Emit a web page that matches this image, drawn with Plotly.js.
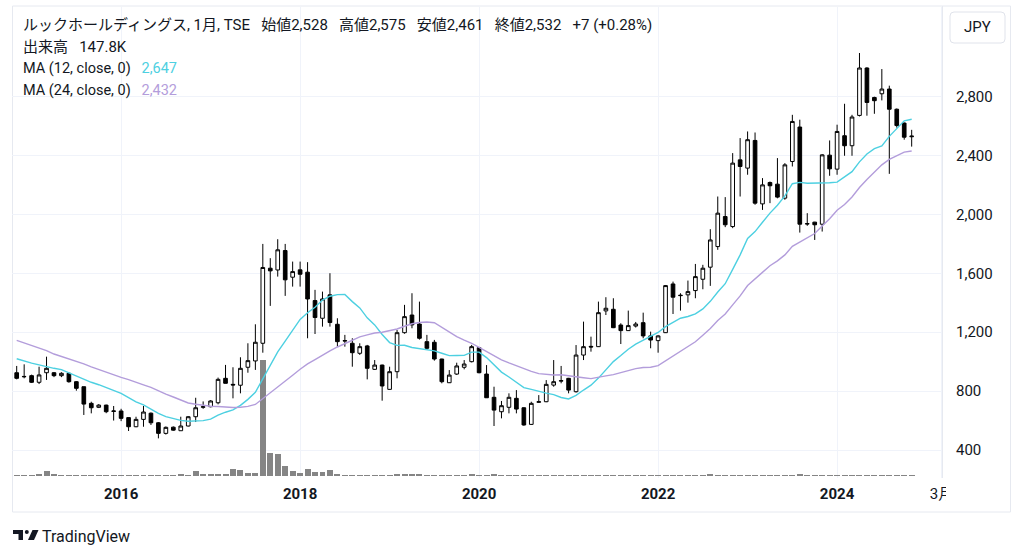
<!DOCTYPE html>
<html>
<head>
<meta charset="utf-8">
<script src="https://cdn.plot.ly/plotly-3.0.1.min.js"></script>
<style>
  html, body { margin: 0; padding: 0; background: #fff; }
  #chart { width: 1024px; height: 557px; }
</style>
</head>
<body>
<div id="chart"></div>
<script>
// Monthly candles, first bar = Nov 2014
const startYear = 2014;
const startMonth = 11;

const opens = [925, 900, 905, 860, 925, 925, 905, 921, 864, 830,
  717, 690, 705, 662, 665, 620, 558, 608, 650, 585,
  513, 555, 531, 563, 626, 690, 694, 721, 887, 846,
  840, 962, 1005, 1125, 1635, 1623, 1755, 1574, 1624, 1608,
  1415, 1295, 1454, 1254, 1140, 1125, 1057, 1107, 948, 977,
  812, 932, 1197, 1317, 1256, 1136, 1132, 1018, 857, 916,
  962, 1000, 1095, 916, 758, 660, 690, 751, 687, 574,
  724, 728, 841, 868, 887, 796, 1045, 1104, 1102, 1345,
  1356, 1249, 1211, 1242, 1265, 1175, 1143, 1197, 1528, 1452,
  1454, 1483, 1560, 1642, 1782, 1986, 1918, 2371, 2315, 2503,
  2072, 2217, 2206, 2111, 2360, 2594, 1938, 1948, 1934, 2403,
  2308, 2535, 2467, 2673, 2995, 2795, 2820, 2852, 2715, 2621,
  2528];

const highs = [971, 982, 912, 966, 1034, 930, 928, 925, 868, 830,
  728, 712, 708, 699, 680, 620, 626, 699, 655, 590,
  560, 560, 626, 630, 755, 730, 739, 892, 978, 962,
  1030, 1125, 1254, 1800, 1703, 1832, 1800, 1680, 1680, 1676,
  1488, 1476, 1601, 1295, 1182, 1159, 1125, 1114, 1011, 980,
  966, 1215, 1386, 1465, 1408, 1182, 1148, 1020, 943, 993,
  1011, 1114, 1100, 977, 830, 733, 785, 807, 690, 728,
  773, 875, 1011, 971, 890, 1113, 1272, 1170, 1408, 1438,
  1431, 1261, 1347, 1270, 1333, 1204, 1180, 1521, 1544, 1465,
  1551, 1664, 1658, 1900, 2122, 2118, 2417, 2519, 2564, 2557,
  2247, 2224, 2383, 2349, 2677, 2644, 2009, 1950, 2410, 2503,
  2610, 2752, 2677, 3097, 3000, 2800, 2988, 2875, 2720, 2625,
  2575];

const lows = [880, 887, 855, 848, 876, 895, 895, 857, 803, 638,
  649, 685, 650, 600, 596, 529, 555, 558, 570, 479,
  505, 531, 531, 560, 590, 680, 690, 710, 853, 751,
  785, 925, 944, 1061, 1379, 1578, 1447, 1510, 1510, 1159,
  1188, 1238, 1238, 1102, 1102, 966, 1046, 880, 944, 735,
  810, 887, 1190, 1227, 1150, 1080, 1007, 853, 855, 910,
  948, 995, 921, 755, 563, 615, 649, 649, 565, 570,
  721, 725, 830, 853, 785, 790, 1011, 1068, 1100, 1317,
  1228, 1120, 1209, 1232, 1159, 1091, 1061, 1195, 1324, 1347,
  1401, 1431, 1492, 1515, 1760, 1914, 1907, 2122, 2270, 2066,
  2031, 2077, 2110, 2100, 2326, 1877, 1923, 1827, 1884, 2263,
  2270, 2399, 2399, 2666, 2671, 2684, 2775, 2276, 2590, 2508,
  2461];

const closes = [887, 898, 860, 910, 955, 905, 921, 864, 819, 712,
  687, 705, 660, 665, 615, 558, 608, 658, 585, 513,
  554, 535, 563, 626, 687, 694, 733, 880, 853, 842,
  955, 1007, 1132, 1640, 1617, 1760, 1556, 1612, 1594, 1426,
  1300, 1426, 1266, 1136, 1143, 1061, 1102, 955, 977, 835,
  932, 1197, 1306, 1250, 1159, 1091, 1018, 864, 909, 971,
  984, 1102, 925, 755, 671, 701, 758, 678, 570, 717,
  728, 846, 864, 871, 807, 1045, 1102, 1100, 1333, 1363,
  1231, 1211, 1245, 1256, 1175, 1147, 1175, 1517, 1438, 1449,
  1476, 1578, 1635, 1827, 2009, 1930, 2349, 2326, 2508, 2077,
  2201, 2195, 2118, 2337, 2632, 1934, 1936, 1930, 2405, 2310,
  2564, 2467, 2662, 2995, 2761, 2773, 2852, 2715, 2604, 2525,
  2532];

// volume, thousands of shares
const volumes = [200, 200, 200, 340, 1020, 400, 140, 200, 200, 200,
  200, 140, 140, 270, 140, 140, 140, 200, 200, 200,
  140, 140, 340, 270, 1090, 400, 340, 340, 340, 1360,
  1290, 680, 680, 23500, 4600, 4400, 2040, 1020, 610, 1360,
  820, 820, 1160, 480, 200, 270, 200, 200, 200, 270,
  200, 480, 480, 480, 340, 200, 200, 200, 200, 200,
  200, 340, 200, 200, 340, 200, 200, 200, 200, 200,
  200, 200, 200, 200, 140, 200, 200, 140, 200, 200,
  140, 140, 140, 140, 140, 270, 140, 200, 200, 140,
  140, 200, 200, 340, 200, 200, 200, 200, 200, 200,
  200, 200, 200, 200, 200, 340, 200, 200, 200, 200,
  200, 200, 200, 200, 140, 140, 140, 140, 140, 140,
  147.8];

// moving averages before enough history is on screen
const ma12Head = [1020, 1003, 990, 978, 965, 955, 946, 925, 900, 880, 860];
const ma24Head = [1145, 1128, 1110, 1095, 1075, 1052, 1036, 1020, 1002, 985,
  965, 946, 928, 910, 893, 878, 858, 842, 825, 800, 780, 760, 740];

const yearTicks = [2016, 2018, 2020, 2022, 2024];
const monthTick = {year: 2025, month: 3, label: '3月'};
const priceTicks = [400, 800, 1200, 1600, 2000, 2400, 2800];

const stockName = 'ルックホールディングス';

// ---- helpers ----
const W = 1024, H = 557, ML = 12, MR = 81, MT = 7, MB = 79;
const PW = W - ML - MR, PH = H - MT - MB;
const px = x => (x - ML) / PW;
const py = y => (H - MB - y) / PH;
const fmt = v => Math.round(v).toLocaleString('en-US');
const monthIndex = (y, m) => (y - startYear) * 12 + (m - startMonth);

function movingAverage(n, head) {
    return closes.map((c, i) => {
        if (i < n - 1) return head[i];
        let s = 0;
        for (let k = i - n + 1; k <= i; k++) s += closes[k];
        return s / n;
    });
}

function toPath(segs) {
    return segs.map(s => {
        const pts = [];
        for (let i = 1; i < s.length; i += 2) pts.push(px(s[i]) + ',' + py(s[i + 1]));
        return s[0] + pts.join(' ');
    }).join(' ');
}

const idx = closes.map((_, i) => i);
const ma12 = movingAverage(12, ma12Head);
const ma24 = movingAverage(24, ma24Head);
const last = closes.length - 1;

const volTrace = {
    type: 'bar', x: idx, y: volumes, xaxis: 'x', yaxis: 'y',
    width: 0.8, marker: {color: '#858585'}, hoverinfo: 'skip'
};

const candleTrace = {
    type: 'candlestick', x: idx,
    open: opens, high: highs, low: lows, close: closes,
    xaxis: 'x', yaxis: 'y2', whiskerwidth: 0,
    increasing: {line: {color: '#000000', width: 1}, fillcolor: '#ffffff'},
    decreasing: {line: {color: '#000000', width: 1}, fillcolor: '#000000'},
    hoverinfo: 'skip'
};

const ma12Trace = {
    type: 'scatter', mode: 'lines', x: idx, y: ma12, xaxis: 'x', yaxis: 'y2',
    line: {color: '#4dd0e1', width: 1.4}, hoverinfo: 'skip'
};
const ma24Trace = {
    type: 'scatter', mode: 'lines', x: idx, y: ma24, xaxis: 'x', yaxis: 'y2',
    line: {color: '#b39ddb', width: 1.4}, hoverinfo: 'skip'
};

const maxVol = Math.max(...volumes);
const volUnit = maxVol / 116;   // tallest bar ~116px

const tickVals = yearTicks.map(y => monthIndex(y, 1)).concat([monthIndex(monthTick.year, monthTick.month)]);
const tickText = yearTicks.map(y => '<b>' + y + '</b>').concat([monthTick.label]);

const FONT = 'Roboto, "Noto Sans CJK JP", sans-serif';
const ink = '#131722';

const chg = closes[last] - closes[last - 1];
const pct = chg / closes[last - 1] * 100;
const sp = '\u00a0\u00a0\u00a0';
const headLine = stockName + ', 1月, TSE' + sp +
    '始値' + fmt(opens[last]) + sp + '高値' + fmt(highs[last]) + sp +
    '安値' + fmt(lows[last]) + sp + '終値' + fmt(closes[last]) + sp +
    (chg >= 0 ? '+' : '') + chg + ' (' + (pct >= 0 ? '+' : '') + pct.toFixed(2) + '%)';

function label(text, x, y, size) {
    return {
        text: text, x: px(x), y: py(y), xref: 'paper', yref: 'paper',
        xanchor: 'left', yanchor: 'middle', showarrow: false,
        font: {family: FONT, size: size, color: ink}
    };
}

const annotations = [
    label(headLine, 21, 25, 15),
    label('出来高' + sp + volumes[last].toFixed(1) + 'K', 21, 47, 15),
    label('MA (12, close, 0)' + sp + '<span style="color:#4dd0e1">' + fmt(ma12[last]) + '</span>', 21, 69, 14.5),
    label('MA (24, close, 0)' + sp + '<span style="color:#b39ddb">' + fmt(ma24[last]) + '</span>', 21, 91, 14.5),
    label('TradingView', 40, 536, 16),
    {
        text: 'JPY', x: px(977.5), y: py(27.5), xref: 'paper', yref: 'paper',
        xanchor: 'center', yanchor: 'middle', showarrow: false,
        font: {family: FONT, size: 15, color: ink}
    }
];

const lineCol = '#e6e9f0';
const shapes = [
    // frame
    {type: 'rect', xref: 'paper', yref: 'paper', x0: px(12.5), x1: px(1010.5), y0: py(512), y1: py(6),
     line: {color: lineCol, width: 1}, fillcolor: 'rgba(0,0,0,0)', layer: 'below'},
    // price scale separator
    {type: 'line', xref: 'paper', yref: 'paper', x0: px(942.5), x1: px(942.5), y0: py(478), y1: py(6),
     line: {color: lineCol, width: 1}},
    // clip the last time label at the price scale edge
    {type: 'rect', xref: 'paper', yref: 'paper', x0: px(946), x1: px(1009.5), y0: py(511), y1: py(481),
     line: {width: 0}, fillcolor: '#ffffff', layer: 'above'},
    // JPY button
    {type: 'path', xref: 'paper', yref: 'paper', layer: 'above',
     path: toPath([['M', 954, 12], ['L', 1001, 12], ['Q', 1005, 12, 1005, 16], ['L', 1005, 39],
                   ['Q', 1005, 43, 1001, 43], ['L', 954, 43], ['Q', 950, 43, 950, 39], ['L', 950, 16],
                   ['Q', 950, 12, 954, 12], ['Z']]),
     line: {color: '#e0e3eb', width: 1}, fillcolor: '#ffffff'},
    // TradingView logo mark
    {type: 'path', xref: 'paper', yref: 'paper', layer: 'above',
     path: toPath([['M', 13, 530], ['L', 23, 530], ['L', 23, 540], ['L', 18.5, 540], ['L', 18.5, 534], ['L', 13, 534], ['Z']]),
     line: {width: 0}, fillcolor: ink},
    {type: 'circle', xref: 'paper', yref: 'paper', layer: 'above',
     x0: px(24.8), x1: px(28.8), y0: py(534), y1: py(530), line: {width: 0}, fillcolor: ink},
    {type: 'path', xref: 'paper', yref: 'paper', layer: 'above',
     path: toPath([['M', 32.5, 530], ['L', 38.5, 530], ['L', 34, 540], ['L', 28, 540], ['Z']]),
     line: {width: 0}, fillcolor: ink}
];

const layout = {
    width: W, height: H,
    margin: {l: ML, r: MR, t: MT, b: MB},
    paper_bgcolor: '#ffffff', plot_bgcolor: '#ffffff',
    showlegend: false,
    bargap: 0,
    xaxis: {
        range: [-0.63, 124.2], rangeslider: {visible: false},
        tickmode: 'array', tickvals: tickVals, ticktext: tickText,
        showgrid: true, gridcolor: '#f0f3fa', gridwidth: 1,
        zeroline: false, showline: false, ticks: '',
        ticklabelstandoff: 5,
        tickfont: {family: FONT, size: 15, color: ink}
    },
    yaxis: {
        range: [-2 * volUnit, 469 * volUnit], visible: false,
        showgrid: false, zeroline: false, fixedrange: true
    },
    yaxis2: {
        overlaying: 'y', side: 'right',
        range: [209.8, 3409.5],
        tickmode: 'array', tickvals: priceTicks, ticktext: priceTicks.map(fmt),
        showgrid: true, gridcolor: '#f0f3fa', gridwidth: 1,
        zeroline: false, showline: false, ticks: '',
        ticklabelstandoff: 12,
        tickfont: {family: FONT, size: 15, color: ink}
    },
    annotations: annotations,
    shapes: shapes
};

Plotly.newPlot('chart', [volTrace, candleTrace, ma12Trace, ma24Trace], layout, {displayModeBar: false, staticPlot: true});
</script>
</body>
</html>
